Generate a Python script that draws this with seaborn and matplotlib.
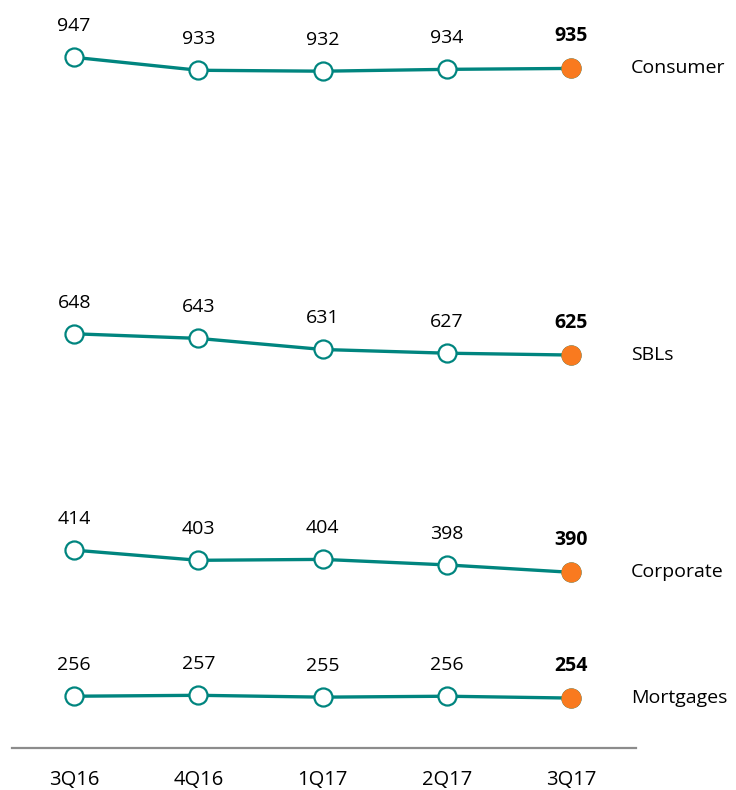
import pandas as pd
import seaborn as sns
import matplotlib.pyplot as plt

# Quarter labels and series values
quarters = ['3Q16', '4Q16', '1Q17', '2Q17', '3Q17']
series_names = ['Consumer', 'SBLs', 'Corporate', 'Mortgages']
consumer = [947, 933, 932, 934, 935]
sbls = [648, 643, 631, 627, 625]
corporate = [414, 403, 404, 398, 390]
mortgages = [256, 257, 255, 256, 254]

teal = '#00857f'
orange = '#f97a1f'

rows = []
for name, vals in zip(series_names, [consumer, sbls, corporate, mortgages]):
    for i, (q, v) in enumerate(zip(quarters, vals)):
        rows.append({'series': name, 'idx': i, 'quarter': q, 'value': v})
df = pd.DataFrame(rows)

sns.set_style('white')
plt.rcParams['font.family'] = ['Open Sans', 'DejaVu Sans']

fig = plt.figure(figsize=(7.36, 7.90), dpi=100)
ax = fig.add_axes([12 / 736, 42 / 790, 624 / 736, 748 / 790])

last_idx = len(quarters) - 1
for name in series_names:
    sub = df[df['series'] == name]
    sns.lineplot(data=sub, x='idx', y='value', ax=ax, color=teal, linewidth=2.4,
                 marker='o', markersize=13, markerfacecolor='white',
                 markeredgecolor=teal, markeredgewidth=1.6, zorder=2)
    last = sub.iloc[-1]
    sns.scatterplot(x=[last['idx']], y=[last['value']], ax=ax, color=orange,
                    s=210, linewidth=0, zorder=3)
    for i, v in zip(sub['idx'], sub['value']):
        weight = 'bold' if i == last_idx else 'normal'
        ax.annotate(str(v), (i, v), xytext=(0, 16),
                    textcoords='offset points', ha='center', va='bottom',
                    fontsize=14, fontweight=weight, color='black')
    ax.text(4.48, last['value'], name, ha='left', va='center', fontsize=14,
            color='black', clip_on=False)

ax.set_xlim(-0.5, 4.52)
ax.set_ylim(200, 1009)
ax.set_xticks(range(len(quarters)))
ax.set_xticklabels(quarters, fontsize=14.5, color='black')
ax.tick_params(axis='x', length=0, pad=16)
ax.set_yticks([])
ax.set_xlabel('')
ax.set_ylabel('')
for s in ['top', 'right', 'left']:
    ax.spines[s].set_visible(False)
ax.spines['bottom'].set_color('#8c8c8c')
ax.spines['bottom'].set_linewidth(1.6)
ax.patch.set_alpha(0)

fig.savefig('out.png', dpi=100)
